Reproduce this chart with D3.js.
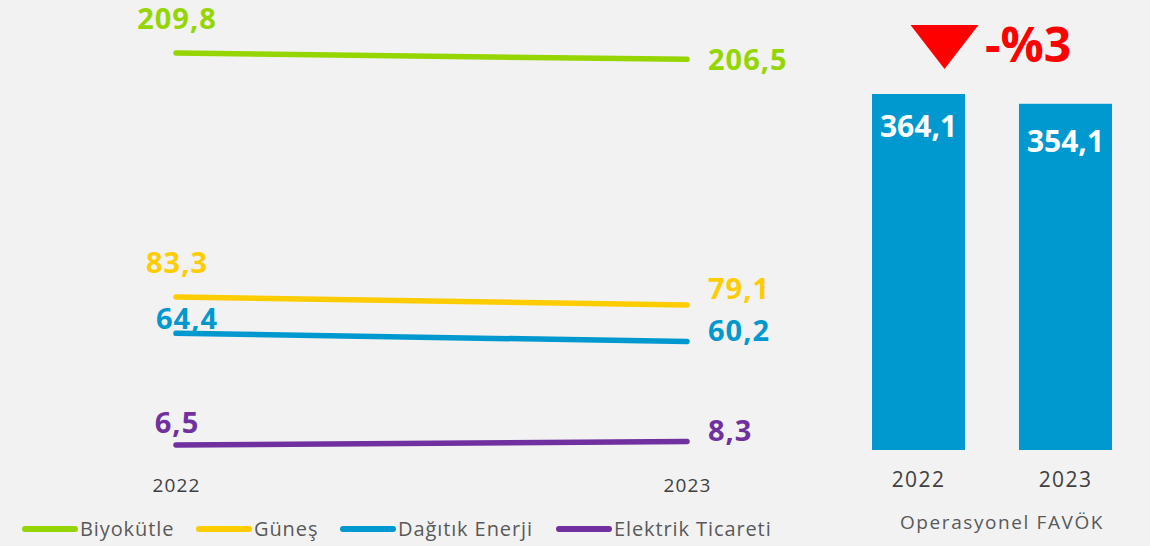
<!DOCTYPE html>
<html><head><meta charset="utf-8">
<script src="https://cdn.jsdelivr.net/npm/d3@7"></script>
<style>body{margin:0;background:#f2f2f2;overflow:hidden}svg{display:block}</style>
</head><body>
<svg id="c" width="1150" height="546"></svg>
<script>
// ---- data ----
const years = ["2022", "2023"];
const seriesNames = ["Biyokütle", "Güneş", "Dağıtık Enerji", "Elektrik Ticareti"];
const biyokutle = [209.8, 206.5];
const gunes = [83.3, 79.1];
const dagitik = [64.4, 60.2];
const elektrik = [6.5, 8.3];
const favok = [364.1, 354.1];
const favokTitle = "Operasyonel FAVÖK";
const changeLabel = "-%3";

// ---- styles ----
const colors = ["#96d600", "#ffcc00", "#0099cf", "#7030a0"];
const barColor = "#0099cf";
const fmt = v => d3.format(".1f")(v).replace(".", ",");
const FONT = "'Open Sans', sans-serif";
const leftDy = [-24, -24, -4, -12];
const rightDy = [11, -6, 0, 0];

const svg = d3.select("#c");
svg.append("rect").attr("width", 1150).attr("height", 546).attr("fill", "#f2f2f2");

const series = [biyokutle, gunes, dagitik, elektrik].map((vals, i) => ({name: seriesNames[i], vals, color: colors[i]}));

// line chart scales
const x = d3.scalePoint().domain(years).range([176, 687]);
const y = d3.scaleLinear().domain([0, 209.8]).range([457.5, 53]);

const line = d3.line().x((d, i) => x(years[i])).y(d => y(d));
svg.selectAll("path.s").data(series).join("path")
  .attr("d", d => line(d.vals)).attr("fill", "none")
  .attr("stroke", d => d.color).attr("stroke-width", 5.5).attr("stroke-linecap", "round");

// left labels
svg.selectAll("text.l").data(series).join("text")
  .attr("x", (d, i) => x(years[0]) + (i === 2 ? 11 : 1))
  .attr("y", (d, i) => y(d.vals[0]) + leftDy[i])
  .attr("text-anchor", "middle").attr("font-family", FONT).attr("font-weight", 700)
  .attr("font-size", 29).attr("letter-spacing", 1).attr("fill", d => d.color)
  .text(d => fmt(d.vals[0]));
// right labels
svg.selectAll("text.r").data(series).join("text")
  .attr("x", x(years[1]) + 21)
  .attr("y", (d, i) => y(d.vals[1]) + rightDy[i])
  .attr("text-anchor", "start").attr("font-family", FONT).attr("font-weight", 700)
  .attr("font-size", 29).attr("letter-spacing", 1).attr("fill", d => d.color)
  .text(d => fmt(d.vals[1]));

// x axis (no line)
const xAxis = svg.append("g").attr("transform", "translate(0,478)")
  .call(d3.axisBottom(x).tickSize(0).tickPadding(0));
xAxis.select(".domain").remove();
xAxis.selectAll("text").attr("font-family", FONT).attr("font-size", 19).attr("letter-spacing", 1.2)
  .attr("fill", "#404040").attr("dy", "0.71em");

// legend
const legendX = [22, 196, 340, 556];
const lg = svg.selectAll("g.lg").data(series).join("g").attr("transform", (d, i) => `translate(${legendX[i]},529)`);
lg.append("line").attr("x1", 3).attr("x2", 53).attr("y1", 0).attr("y2", 0)
  .attr("stroke", d => d.color).attr("stroke-width", 6).attr("stroke-linecap", "round");
lg.append("text").attr("x", 58).attr("y", 0).attr("dy", "0.35em")
  .attr("font-family", FONT).attr("font-size", 20).attr("letter-spacing", 0.9)
  .attr("fill", "#595959").text(d => d.name);

// bar chart
const xb = d3.scaleBand().domain(years).range([872, 1112]).paddingInner(0.367).paddingOuter(0);
const yb = d3.scaleLinear().domain([0, d3.max(favok)]).range([450, 94]);
svg.selectAll("rect.b").data(favok).join("rect")
  .attr("x", (d, i) => xb(years[i])).attr("width", xb.bandwidth())
  .attr("y", d => yb(d)).attr("height", d => yb(0) - yb(d)).attr("fill", barColor);
svg.selectAll("text.b").data(favok).join("text")
  .attr("x", (d, i) => xb(years[i]) + xb.bandwidth() / 2)
  .attr("y", (d, i) => yb(d) + 43 + i * 5)
  .attr("text-anchor", "middle").attr("font-family", FONT).attr("font-weight", 700)
  .attr("font-size", 30).attr("fill", "#fff").text(d => fmt(d));

const xbAxis = svg.append("g").attr("transform", "translate(0,472)")
  .call(d3.axisBottom(xb).tickSize(0).tickPadding(0));
xbAxis.select(".domain").remove();
xbAxis.selectAll("text").attr("font-family", FONT).attr("font-size", 21).attr("letter-spacing", 1.4)
  .attr("fill", "#404040").attr("dy", "0.71em");

svg.append("text").attr("x", 1002).attr("y", 529).attr("text-anchor", "middle")
  .attr("font-family", FONT).attr("font-size", 19).attr("letter-spacing", 1.6)
  .attr("fill", "#595959").text(favokTitle);

// change indicator
const cx = xb(years[0]) + xb.bandwidth() / 2 + 26;
svg.append("path").attr("d", `M${cx - 34},25 L${cx + 34},25 L${cx},69 Z`).attr("fill", "#ff0000");
svg.append("text").attr("x", 985).attr("y", 62).attr("font-family", FONT).attr("font-weight", 700)
  .attr("font-size", 48).attr("fill", "#ff0000").text(changeLabel);
</script>
</body></html>
